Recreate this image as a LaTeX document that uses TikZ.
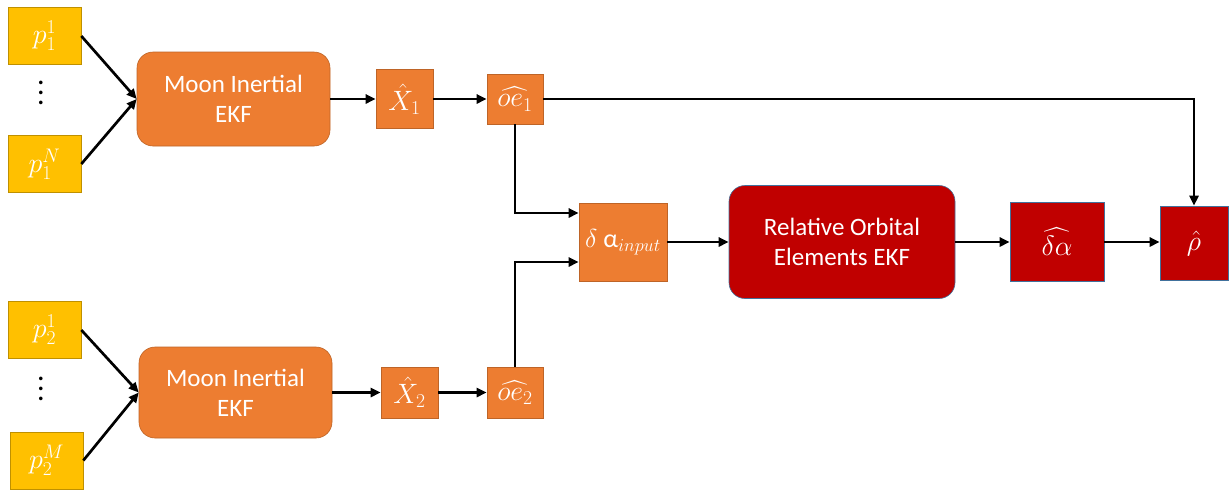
\documentclass[tikz,border=0pt]{standalone}
\usepackage{fix-cm}
\usepackage{amsmath}
\usepackage{exscale}
\usepackage{fontspec}
\setmainfont{Carlito}
\usepackage{tikz}
\usetikzlibrary{arrows.meta,positioning}
\definecolor{gold}{HTML}{FFC000}
\definecolor{golddk}{HTML}{BF9000}
\definecolor{tangerine}{HTML}{ED7D31}
\definecolor{crimson}{HTML}{C00000}
\definecolor{steel}{HTML}{41719C}
\tikzset{
  sensorbox/.style={
    rectangle, draw=golddk, fill=gold, line width=0.6pt,
    minimum width=73pt, minimum height=57pt,
    text=white, font=\fontsize{28}{33}\selectfont,
    inner sep=0pt
  },
  ekfbox/.style={
    rectangle, rounded corners=16pt, draw=#1!80!black, fill=#1, line width=0.6pt,
    text=white, font=\fontsize{25}{30}\selectfont, align=center,
    inner sep=0pt
  },
  ekfbox/.default=tangerine,
  statebox/.style={
    rectangle, draw=#1!80!black, fill=#1, line width=0.6pt,
    text=white, font=\fontsize{28}{33}\selectfont,
    inner sep=0pt
  },
  statebox/.default=tangerine,
  vdotsnode/.style={
    align=center, inner sep=0pt, font=\fontsize{30}{10}\selectfont
  },
  flow/.style={
    -{Triangle[length=10pt,width=9pt]}, line width=2.7pt, color=black
  },
}

\begin{document}
\begin{tikzpicture}[x=1pt,y=-1pt]
  \useasboundingbox (0,0) rectangle (1229,491);
  % measurements of the first target
  \node[sensorbox] (p11) at (44.5,36) {$p_1^1$};
  \node[vdotsnode] (dota) at (41,93) {.\\.\\.};
  \node[sensorbox] (p1n) at (44.5,164) {$p_1^N$};
  \node[ekfbox, minimum width=193pt, minimum height=94pt] (ekfa) at (233.5,99)
    {Moon Inertial\\EKF};
  \node[statebox, minimum width=57pt, minimum height=59pt] (xa) at (404.5,99) {$\hat{X}_1$};
  \node[statebox, minimum width=56pt, minimum height=50pt] (oea) at (515,99) {$\widehat{oe_1}$};
  % measurements of the second target
  \node[sensorbox] (p21) at (44.5,330) {$p_2^1$};
  \node[vdotsnode] (dotb) at (41,389) {.\\.\\.};
  \node[sensorbox] (p2m) at (46.5,460.5) {$p_2^M$};
  \node[ekfbox, minimum width=193pt, minimum height=91pt] (ekfb) at (235.5,392.5)
    {Moon Inertial\\EKF};
  \node[statebox, minimum width=57pt, minimum height=51pt] (xb) at (409.5,392.5) {$\hat{X}_2$};
  \node[statebox, minimum width=56pt, minimum height=51pt] (oeb) at (515,392.5) {$\widehat{oe_2}$};
  % relative filter
  \node[statebox, minimum width=88pt, minimum height=78pt, font=\fontsize{26}{31}\selectfont] (din) at (623,242)
    {$\delta$ α$_{input}$};
  \node[ekfbox=crimson, draw=steel, minimum width=226pt, minimum height=113pt] (roe) at (842,242)
    {Relative Orbital\\Elements EKF};
  \node[statebox=crimson, draw=steel, minimum width=94pt, minimum height=79pt] (dah) at (1057,242)
    {$\widehat{\delta\alpha}$};
  \node[statebox=crimson, draw=steel, minimum width=68pt, minimum height=74pt] (rho) at (1194,243)
    {$\hat{\rho}$};

  \draw[flow] (p11.east) -- (ekfa.west);
  \draw[flow] (p1n.east) -- (ekfa.west);
  \draw[flow] (p21.east) -- (ekfb.west);
  \draw[flow] (p2m.east) -- (ekfb.west);
  \draw[flow] (ekfa) -- (xa);
  \draw[flow] (xa) -- (oea);
  \draw[flow] (ekfb) -- (xb);
  \draw[flow] (xb) -- (oeb);
  \draw[flow] (oea.east) -| (rho.north);
  \draw[flow] (oea.south) |- ([yshift=29pt]din.west);
  \draw[flow] (oeb.north) |- ([yshift=-20pt]din.west);
  \draw[flow] (din) -- (roe);
  \draw[flow] (roe) -- (dah);
  \draw[flow] (dah) -- (rho.west |- dah);
\end{tikzpicture}
\end{document}
